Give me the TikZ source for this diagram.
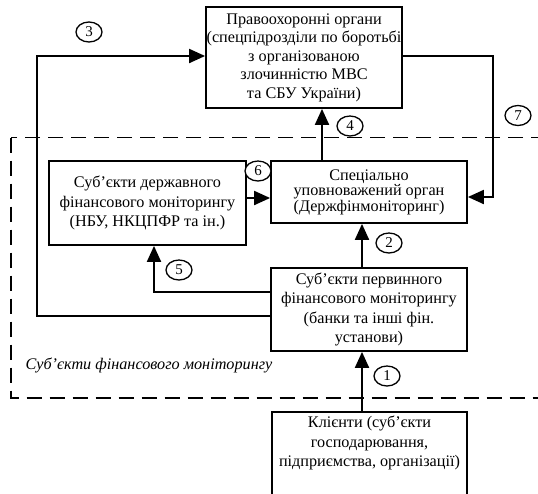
\documentclass[tikz,border=0pt]{standalone}
\usepackage{fontspec}
\setmainfont{Liberation Serif}
\usetikzlibrary{arrows.meta,shapes.geometric}
\begin{document}
\begin{tikzpicture}[x=1pt,y=-1pt,
  box/.style={draw, line width=1.8pt, inner sep=0pt, align=center},
  txt/.style={font=\fontsize{16.2}{19.5}\selectfont},
  num/.style={draw, ellipse, fill=white, line width=1.3pt, minimum width=26pt, minimum height=20pt, inner sep=0pt, font=\fontsize{15}{15}\selectfont},
  conn/.style={line width=2pt, -{Triangle[length=16pt,width=14pt]}},
  zone/.style={line width=1.8pt, dash pattern=on 15pt off 8pt},
]
\useasboundingbox (0,0) rectangle (538,493);
\clip (0,0) rectangle (538,493);
\fill[white] (0,0) rectangle (538,493);

\draw[zone] (11,137.5) rectangle (570,398);

\node[box, minimum width=196pt, minimum height=101pt, font=\fontsize{16.2}{18.5}\selectfont] (top) at (304,57.5)
  {Правоохоронні органи\\(спецпідрозділи по боротьбі\\з організованою\\злочинністю МВС\\та СБУ України)};
\node[box, txt, minimum width=197pt, minimum height=84pt] (state) at (147.5,203)
  {Суб’єкти державного\\фінансового моніторингу\\(НБУ, НКЦПФР та ін.)};
\node[box, minimum width=196pt, minimum height=62pt, font=\fontsize{16.2}{15.5}\selectfont] (spec) at (369,192)
  {Спеціально\\уповноважений орган\\(Держфінмоніторинг)};
\node[box, txt, minimum width=196pt, minimum height=83pt] (prim) at (369,309.5)
  {Суб’єкти первинного\\фінансового моніторингу\\(банки та інші фін.\\установи)};
\node[box, minimum width=195pt, minimum height=110pt, anchor=north] (clients) at (369.5,411) {};
\node[txt, align=center] (clienttext) at (369.5,443)
  {Клієнти (суб’єкти\\господарювання,\\підприємства, організації)};

\node[anchor=west, font=\fontsize{16.2}{18}\selectfont\itshape] (zonelabel) at (22,365) {Суб’єкти фінансового моніторингу};

\draw[conn] (prim.west |- 0,316) -| (37,56) -- (top.west |- 0,56);
\draw[conn] (prim.west |- 0,292) -| (state.south -| 154,0);
\draw[conn] (state.east |- 0,198) -- (spec.west |- 0,198);
\draw[conn] (spec.north -| 322,0) -- (top.south -| 322,0);
\draw[conn] (top.east |- 0,56) -| (493,197) -- (spec.east |- 0,197);
\draw[conn] (prim.north -| 362,0) -- (spec.south -| 362,0);
\draw[conn] (clients.north -| 362,0) -- (prim.south -| 362,0);

\node[num] (n3) at (89,32) {3};
\node[num] (n6) at (258,171) {6};
\node[num] (n4) at (350,126) {4};
\node[num] (n7) at (518,115.5) {7};
\node[num] (n2) at (389,243) {2};
\node[num] (n5) at (179,270) {5};
\node[num] (n1) at (387,376) {1};
\end{tikzpicture}
\end{document}
